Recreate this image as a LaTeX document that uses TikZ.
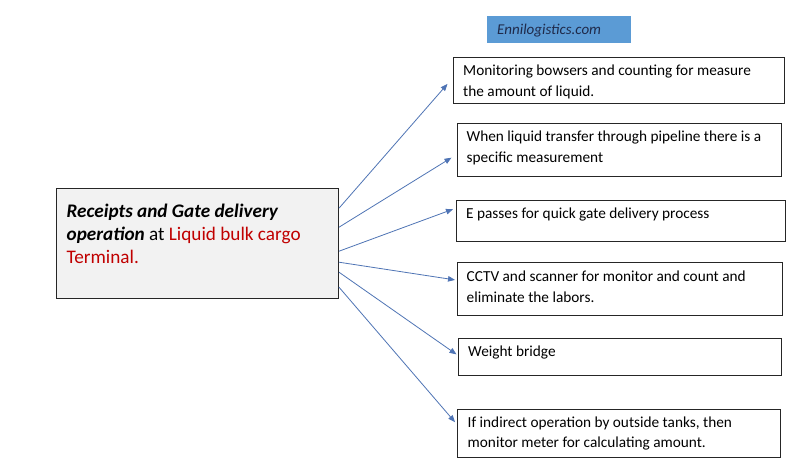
\documentclass[tikz,border=0pt]{standalone}
\usepackage{fontspec}
\setmainfont{Carlito}
\usetikzlibrary{arrows.meta,calc}
\definecolor{arrowblue}{HTML}{4F74B5}
\definecolor{termred}{HTML}{C00000}
\definecolor{mainfill}{HTML}{F2F2F2}
\definecolor{tagblue}{HTML}{5B9BD5}
\definecolor{tagtext}{HTML}{1F2A4A}
\begin{document}
\begin{tikzpicture}[x=1pt,y=-1pt,
  itembox/.style={draw=black!85,line width=0.8pt,rectangle,inner sep=0pt,anchor=north west},
  itemtext/.style={anchor=base west,inner sep=0pt,font=\fontsize{15.3}{20.5}\selectfont},
  conn/.style={draw=arrowblue,line width=0.8pt,-{Triangle[length=7pt,width=5.5pt]}}]
\useasboundingbox[fill=white] (0,0) rectangle (800,472);

% main box
\node[itembox, fill=mainfill, line width=1pt, minimum width=282pt, minimum height=110pt] (main) at (56,188) {};
\node[anchor=base west,inner sep=0pt,font=\fontsize{19.2}{23}\selectfont] (maintext) at (66.5,217)
  {\parbox[t]{270pt}{\textbf{\textit{Receipts and Gate delivery}}\\
   \textbf{\textit{operation}} at \textcolor{termred}{Liquid bulk cargo}\\
   \textcolor{termred}{Terminal.}}};

% tag
\node[fill=tagblue, minimum width=144pt, minimum height=27pt, inner sep=0pt, anchor=north west] (tag) at (487,16) {};
\node[anchor=base west, inner sep=0pt, font=\fontsize{15}{18}\selectfont\itshape, text=tagtext] (tagtxt) at (497,34.5) {Ennilogistics.com};

% item boxes
\node[itembox, minimum width=331pt, minimum height=46pt] (b1) at (453,56.5) {};
\node[itembox, minimum width=324pt, minimum height=53.5pt] (b2) at (457,122.5) {};
\node[itembox, minimum width=329pt, minimum height=41pt] (b3) at (456,199.5) {};
\node[itembox, minimum width=325pt, minimum height=53pt] (b4) at (457,262) {};
\node[itembox, minimum width=323pt, minimum height=37pt] (b5) at (458,338) {};
\node[itembox, minimum width=323pt, minimum height=48.5pt] (b6) at (457,408.5) {};

% item texts
\node[itemtext] (t1) at (463,75.5) {\parbox[t]{315pt}{Monitoring bowsers and counting for measure\\the amount of liquid.}};
\node[itemtext] (t2) at (466.5,141.5) {\parbox[t]{310pt}{When liquid transfer through pipeline there is a\\specific measurement}};
\node[itemtext] (t3) at (466,218) {E passes for quick gate delivery process};
\node[itemtext] (t4) at (466.5,281.5) {\parbox[t]{310pt}{CCTV and scanner for monitor and count and\\eliminate the labors.}};
\node[itemtext] (t5) at (468,356) {Weight bridge};
\node[itemtext] (t6) at (467.5,427) {\parbox[t]{310pt}{If indirect operation by outside tanks, then\\monitor meter for calculating amount.}};

% connectors
\draw[conn] ($(main.east)+(0,-35.3)$) -- ($(b1.west)+(-5.5,4)$);
\draw[conn] ($(main.east)+(0,-16.3)$) -- ($(b2.west)+(-5.5,8)$);
\draw[conn] ($(main.east)+(0,7.7)$) -- ($(b3.west)+(-3,-11.2)$);
\draw[conn] ($(main.east)+(0,18.7)$) -- ($(b4.west)+(-2,-9)$);
\draw[conn] ($(main.east)+(0,28.7)$) -- ($(b5.west)+(-1.5,-2.5)$);
\draw[conn] ($(main.east)+(0,43.7)$) -- ($(b6.west)+(-2,-11)$);
\end{tikzpicture}
\end{document}
